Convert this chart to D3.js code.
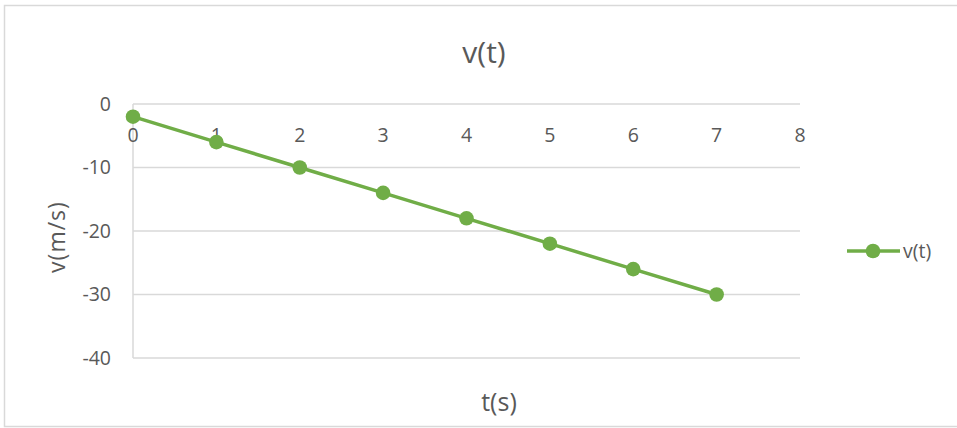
<!DOCTYPE html>
<html>
<head>
<meta charset="utf-8">
<script src="https://cdn.jsdelivr.net/npm/d3@7/dist/d3.min.js"></script>
<style>
  html, body { margin: 0; padding: 0; background: #fff; }
  svg { display: block; }
  text { font-family: "Open Sans", "Liberation Sans", sans-serif; fill: #595959; }
</style>
</head>
<body>
<svg id="chart" width="957" height="428"></svg>
<script>
// Velocity vs time samples
const times = [0, 1, 2, 3, 4, 5, 6, 7];
const velocities = [-2, -6, -10, -14, -18, -22, -26, -30];
const xTicks = [0, 1, 2, 3, 4, 5, 6, 7, 8];
const yTicks = [0, -10, -20, -30, -40];
const seriesName = "v(t)";

const svg = d3.select("#chart");
const green = "#70AD47";
const gridColor = "#D9D9D9";

// chart frame
svg.append("rect")
  .attr("x", 4.5).attr("y", 5.5)
  .attr("width", 960).attr("height", 421)
  .attr("fill", "#fff")
  .attr("stroke", "#D9D9D9").attr("stroke-width", 1.5);

const x = d3.scaleLinear().domain([0, 8]).range([133, 800]);
const y = d3.scaleLinear().domain([-40, 0]).range([358, 104]);

// horizontal gridlines
svg.append("g")
  .selectAll("line")
  .data(yTicks)
  .join("line")
  .attr("x1", x(0)).attr("x2", x(8))
  .attr("y1", d => y(d)).attr("y2", d => y(d))
  .attr("stroke", gridColor).attr("stroke-width", 1.5);

// vertical axis line
svg.append("line")
  .attr("x1", x(0)).attr("x2", x(0))
  .attr("y1", y(0)).attr("y2", y(-40))
  .attr("stroke", gridColor).attr("stroke-width", 1.5);

// y tick labels
svg.append("g")
  .selectAll("text")
  .data(yTicks)
  .join("text")
  .attr("x", 111)
  .attr("y", d => y(d))
  .attr("dy", "0.35em")
  .attr("text-anchor", "end")
  .attr("font-size", 19.5)
  .text(d => d);

// x tick labels sit just under the zero line
svg.append("g")
  .selectAll("text")
  .data(xTicks)
  .join("text")
  .attr("x", d => x(d))
  .attr("y", y(0) + 38)
  .attr("text-anchor", "middle")
  .attr("font-size", 19.5)
  .text(d => d);

// series line
const pts = times.map((t, i) => [t, velocities[i]]);
svg.append("path")
  .datum(pts)
  .attr("fill", "none")
  .attr("stroke", green)
  .attr("stroke-width", 3.5)
  .attr("stroke-linejoin", "round")
  .attr("d", d3.line().x(d => x(d[0])).y(d => y(d[1])));

svg.append("g")
  .selectAll("circle")
  .data(pts)
  .join("circle")
  .attr("cx", d => x(d[0]))
  .attr("cy", d => y(d[1]))
  .attr("r", 7.3)
  .attr("fill", green);

// titles
svg.append("text")
  .attr("x", 484).attr("y", 63)
  .attr("text-anchor", "middle")
  .attr("font-size", 30)
  .text("v(t)");

svg.append("text")
  .attr("x", 499).attr("y", 411)
  .attr("text-anchor", "middle")
  .attr("font-size", 25)
  .text("t(s)");

svg.append("text")
  .attr("transform", "translate(65,237) rotate(-90)")
  .attr("text-anchor", "middle")
  .attr("font-size", 23)
  .attr("letter-spacing", 1)
  .text("v(m/s)");

// legend
const lg = svg.append("g").attr("transform", "translate(847,251)");
lg.append("line")
  .attr("x1", 0).attr("x2", 53)
  .attr("stroke", green).attr("stroke-width", 3.5);
lg.append("circle").attr("cx", 26).attr("cy", 0).attr("r", 7.3).attr("fill", green);
lg.append("text")
  .attr("x", 56).attr("y", 0).attr("dy", "0.35em")
  .attr("font-size", 19.5)
  .text(seriesName);
</script>
</body>
</html>
